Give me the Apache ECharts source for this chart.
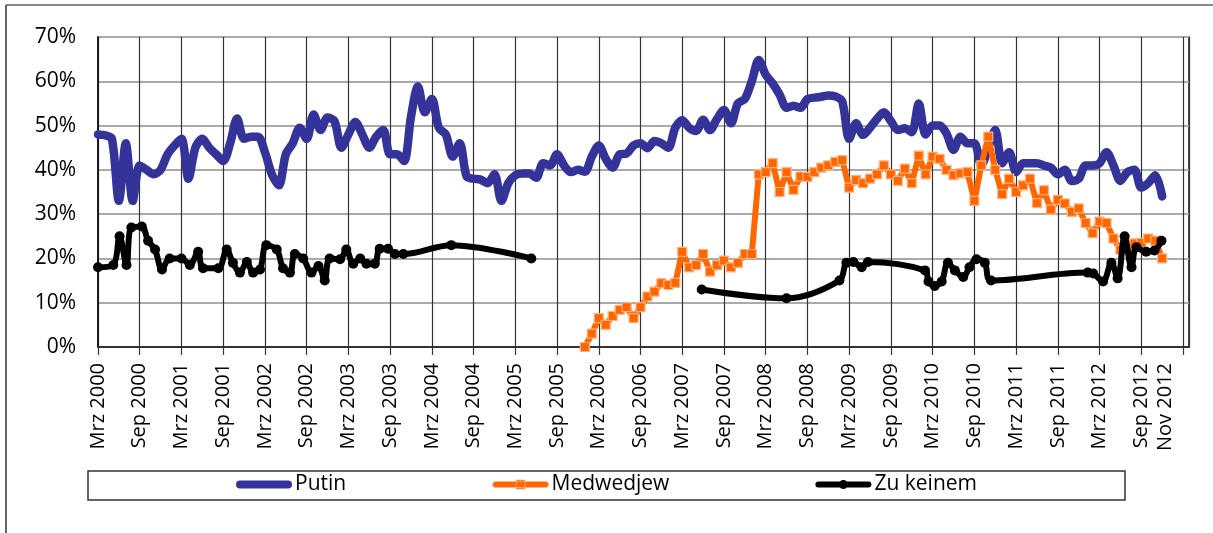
<!DOCTYPE html>
<html>
<head>
<meta charset="utf-8">
<script src="https://cdn.jsdelivr.net/npm/echarts@6/dist/echarts.min.js"></script>
<style>
  html, body { margin: 0; padding: 0; background: #fff; }
  #chart { width: 1213px; height: 533px; }
</style>
</head>
<body>
<div id="chart"></div>
<script>
// Tick labels every 6 months starting March 2000 (month index 0)
const tickLabels = ['Mrz 2000','Sep 2000','Mrz 2001','Sep 2001','Mrz 2002','Sep 2002','Mrz 2003','Sep 2003',
  'Mrz 2004','Sep 2004','Mrz 2005','Sep 2005','Mrz 2006','Sep 2006','Mrz 2007','Sep 2007','Mrz 2008',
  'Sep 2008','Mrz 2009','Sep 2009','Mrz 2010','Sep 2010','Mrz 2011','Sep 2011','Mrz 2012','Sep 2012'];
const lastLabel = 'Nov 2012';
const lastLabelMonth = 153.5;
const axisEndMonth = 156.86;

const seriesNames = ['Putin', 'Medwedjew', 'Zu keinem'];

// Putin: monthly values from month 0 (Mrz 2000)
const putinStart = 0;
const putinValues = [48,47.8,47,33,46,33,41,40,39,40,43.5,45.5,47,38,45,47,45,43.5,42,46,
  51.6,47,47.5,47.5,44,39,36.5,43.5,46,49.5,47,52.5,49,51.8,51,45,48,50.8,48,45,
  47.5,49,43.5,43.5,42,52,58.8,53,56,49.5,48,43,46,38.5,38,37.8,37,39,33,37,
  38.8,39.2,39.2,38.2,41.5,41,43.5,41,39.5,40,39.6,43,45.5,42.5,40.5,43.5,43.7,45.5,46,44.9,
  46.5,46,45,49.5,51.2,49.5,48.8,51.3,49,51.5,53.5,50.5,55,56,60,64.8,61.5,59.5,57,54,
  54.5,54,56,56.3,56.5,56.8,56.6,55.5,47,50.5,47.9,49.5,51.5,53,51,49,49.4,48.5,55,48,
  50,50,48.2,44.5,47.5,46,46,41,45,49,41.5,44,39.5,41.5,41.5,41.5,41,40.5,39,40,
  37.5,38,41,41,41.5,44,41,37.5,39.5,40,36,37,38.8,34];

// Medwedjew: monthly values from month 70
const medStart = 70;
const medValues = [0,3,6.5,5,7,8.4,9,6.5,9,11.4,12.5,14.4,14,14.5,21.5,18,18.5,21,17,18.5,
  19.5,18,19,21,21,39,39.5,41.5,35,39.5,35.5,38.5,38.4,39.5,40.5,41,41.8,42.2,36,37.7,
  37,38,39,41,39,37.5,40.3,37,43.2,39,43,42.5,40,38.8,39.2,39.5,33,41,47.5,40,
  34.5,38,35,36.5,38,32.5,35.4,31,33.2,32.4,30.5,31.3,28,25.7,28.3,28,24.5,22,22,23.4,
  23.5,24.5,24,20];

// Zu keinem: irregular survey months [month, value]; '-' marks the gap
const zuKeinemMonths = [0,2.2,3.1,4.1,4.8,6.3,7.2,8.2,9.2,10.3,12,13.2,14.4,15.1,17.3,18.5,19.4,20.4,21.4,22.3,
  23.3,24.2,25.7,26.6,27.6,28.3,29.5,30.7,31.7,32.6,33.3,34.8,35.7,36.7,37.7,38.6,39.8,40.5,41.7,42.7,
  43.9,50.8,62.3,75,
  86.8,99,106.6,107.6,108.6,109.8,110.7,118.9,119.4,120.3,121.3,122.2,123.2,124.4,125.3,126.3,127.5,128.4,
  142.3,143.1,144.5,145.7,146.6,147.6,148.6,149.3,150.7,151.9,152.9];
const zuKeinemValues = [18,18.5,25,18.5,27,27.2,24,22,17.5,20,20,18.5,21.5,17.8,17.8,22,19,16.8,19.2,16.8,
  17.5,23,22,17.8,16.8,21,20,16.8,18.3,15,20,19.8,22,18.8,20,18.8,18.8,22.2,22.2,21,
  21,23,20,'-',
  13,11,15,19,19.2,18,19.2,17.3,14.8,13.8,14.8,19,17.3,15.8,18,19.8,19,15,
  16.8,16.6,14.8,19,15.5,25,18,22.5,21.5,21.8,24];

const colors = ['#333399', '#FF6600', '#000000'];
const FONT = "'Open Sans', 'Noto Sans', sans-serif";

const putinData = putinValues.map((v, i) => [putinStart + i, v]);
const medData = medValues.map((v, i) => [medStart + i, v]);
const zkData = zuKeinemMonths.map((m, i) => [m, zuKeinemValues[i]]);

// legend icons (line + marker), drawn in a 56 x 9 box
const iconPutin = 'path://M4,0.5 L52,0.5 A4,4 0 0 1 52,8.5 L4,8.5 A4,4 0 0 1 4,0.5 Z';
const iconMed = 'path://M3,1.5 L53,1.5 A3,3 0 0 1 53,7.5 L3,7.5 A3,3 0 0 1 3,1.5 Z M23.5,0 L32.5,0 L32.5,9 L23.5,9 Z';
const iconZk = 'path://M3,1.5 L53,1.5 A3,3 0 0 1 53,7.5 L3,7.5 A3,3 0 0 1 3,1.5 Z M28,0 A4.5,4.5 0 1 1 28,9 A4.5,4.5 0 1 1 28,0 Z';

const chart = echarts.init(document.getElementById('chart'), null, { renderer: 'canvas' });

const option = {
  animation: false,
  backgroundColor: '#fff',
  graphic: [
    { type: 'line', shape: { x1: 6, y1: 5, x2: 1213, y2: 5 }, style: { stroke: '#888', lineWidth: 2 }, z: -1 },
    { type: 'line', shape: { x1: 6, y1: 5, x2: 6, y2: 533 }, style: { stroke: '#333', lineWidth: 1.5 }, z: -1 },
    { type: 'rect', shape: { x: 88, y: 471, width: 1037, height: 29 }, style: { fill: 'none', stroke: '#333', lineWidth: 1.5 }, z: -1 }
  ],
  grid: {
    left: 98, top: 37, right: 24, bottom: 186,
    show: true, borderColor: '#111', borderWidth: 1.5, backgroundColor: 'transparent'
  },
  legend: {
    data: [
      { name: seriesNames[0], icon: iconPutin, itemStyle: { color: colors[0], borderWidth: 0 } },
      { name: seriesNames[1], icon: iconMed, itemStyle: { color: colors[1], borderColor: '#FFB27F', borderWidth: 0.8 } },
      { name: seriesNames[2], icon: iconZk, itemStyle: { color: colors[2], borderWidth: 0 } }
    ],
    top: 474,
    left: 'center',
    itemGap: 146,
    itemWidth: 56,
    itemHeight: 9,
    padding: 0,
    textStyle: { fontFamily: FONT, fontSize: 21, color: '#000', padding: [0, 0, 0, -2] }
  },
  xAxis: [
    {
      type: 'value', min: 0, max: axisEndMonth, interval: 6,
      axisLine: { show: true, lineStyle: { color: '#333', width: 2 } },
      axisTick: { show: true, length: 8, lineStyle: { color: '#333', width: 1.2 } },
      splitLine: { show: true, lineStyle: { color: '#333', width: 1.2 } },
      axisLabel: {
        rotate: 90, margin: 16, fontFamily: FONT, fontSize: 20, color: '#000',
        showMinLabel: true, showMaxLabel: false,
        formatter: v => (Math.abs(v % 6) < 1e-9 && v / 6 < tickLabels.length) ? tickLabels[Math.round(v / 6)] : ''
      }
    },
    {
      type: 'value', min: 0, max: axisEndMonth, interval: lastLabelMonth,
      position: 'bottom', offset: 0,
      axisLine: { show: false }, axisTick: { show: false }, splitLine: { show: false },
      axisLabel: {
        rotate: 90, margin: 16, fontFamily: FONT, fontSize: 20, color: '#000',
        showMinLabel: false, showMaxLabel: false,
        formatter: v => Math.abs(v - lastLabelMonth) < 1e-6 ? lastLabel : ''
      }
    }
  ],
  yAxis: {
    type: 'value', min: 0, max: 70, interval: 10,
    axisLine: { show: true, lineStyle: { color: '#111', width: 1.5 } },
    axisTick: { show: false },
    splitLine: { show: true, lineStyle: { color: '#aaa', width: 2 } },
    axisLabel: { fontFamily: FONT, fontSize: 21, color: '#000', margin: 22, formatter: '{value}%' }
  },
  series: [
    {
      name: seriesNames[0], type: 'line', data: putinData,
      smooth: 0.3, symbol: 'none', showSymbol: false,
      lineStyle: { color: colors[0], width: 8.5, cap: 'round', join: 'round' },
      itemStyle: { color: colors[0] }, z: 3
    },
    {
      name: seriesNames[1], type: 'line', data: medData,
      smooth: false, symbol: 'rect', symbolSize: 9,
      lineStyle: { color: colors[1], width: 6, join: 'round' },
      itemStyle: { color: colors[1], borderColor: '#FFB27F', borderWidth: 1.2 }, z: 4
    },
    {
      name: seriesNames[2], type: 'line', data: zkData, connectNulls: false,
      smooth: 0.35, symbol: 'circle', symbolSize: 10,
      lineStyle: { color: colors[2], width: 6, cap: 'round', join: 'round' },
      itemStyle: { color: colors[2] }, z: 5
    }
  ]
};
chart.setOption(option);
</script>
</body>
</html>
